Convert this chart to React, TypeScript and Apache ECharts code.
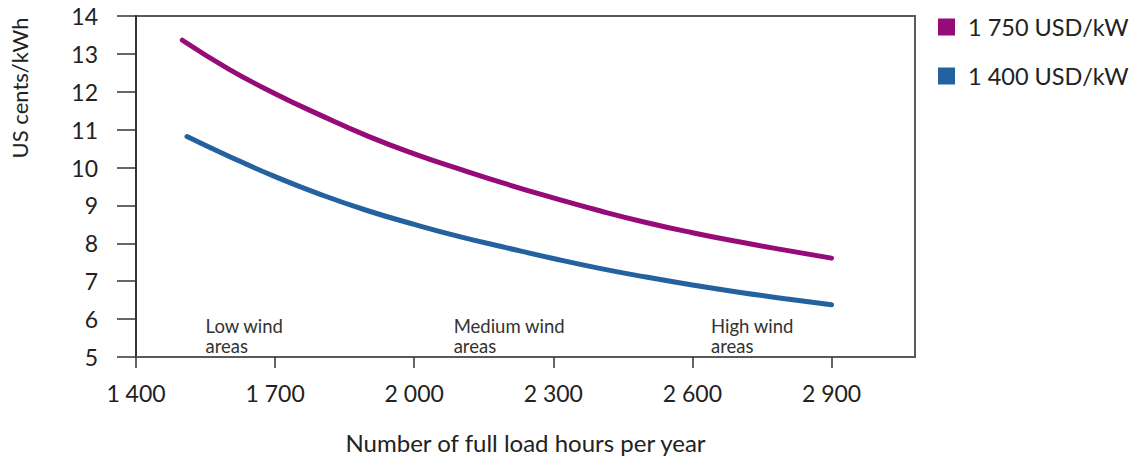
import React, { useEffect, useRef } from "react";
import * as echarts from "echarts";

const hours = [1500, 1600, 1700, 1800, 1900, 2000, 2100, 2200, 2300, 2400, 2500, 2600, 2700, 2800, 2900];
const cost1750 = [13.36, 12.6, 11.95, 11.37, 10.83, 10.36, 9.95, 9.56, 9.2, 8.86, 8.55, 8.28, 8.04, 7.82, 7.61];
const hours1400 = [1510, 1600, 1700, 1800, 1900, 2000, 2100, 2200, 2300, 2400, 2500, 2600, 2700, 2800, 2900];
const cost1400 = [10.82, 10.3, 9.76, 9.28, 8.86, 8.5, 8.17, 7.88, 7.6, 7.34, 7.11, 6.9, 6.71, 6.54, 6.38];
const xTicks = [1400, 1700, 2000, 2300, 2600, 2900];
const seriesNames = ["1 750 USD/kW", "1 400 USD/kW"];
const areaLabels = [
  { lines: ["Low wind", "areas"], hour: 1550 },
  { lines: ["Medium wind", "areas"], hour: 2085 },
  { lines: ["High wind", "areas"], hour: 2640 },
];

const FONT = "Lato";
const PURPLE = "#970b78";
const BLUE = "#24619f";

export default function App() {
  const ref = useRef<HTMLDivElement>(null);
  useEffect(() => {
    const chart = echarts.init(ref.current!, null, { renderer: "svg" });
    const fmt = (v: number) => String(v).replace(/\B(?=(\d{3})+(?!\d))/g, " ");
    const yTitle = {
      type: "text",
      x: 19,
      y: 88,
      rotation: Math.PI / 2,
      style: {
        text: "US cents/kWh",
        fontSize: 22,
        fontFamily: FONT,
        fill: "#222",
        align: "center",
        verticalAlign: "middle",
      },
    };
    chart.setOption({
      animation: false,
      textStyle: { fontFamily: FONT },
      grid: {
        left: 136,
        right: 219,
        top: 16,
        bottom: 101,
        outerBoundsMode: "none",
        containLabel: false,
        show: true,
        borderColor: "#5a5a5a",
        borderWidth: 2,
        backgroundColor: "transparent",
      },
      legend: {
        orient: "vertical",
        left: 938,
        top: 15,
        padding: 0,
        itemWidth: 17,
        itemHeight: 17,
        itemGap: 25,
        icon: "rect",
        textStyle: { fontSize: 23.5, color: "#222", fontFamily: FONT, padding: [0, 0, 0, 8] },
        data: seriesNames,
      },
      xAxis: {
        type: "value",
        min: 1400,
        max: 3080,
        name: "Number of full load hours per year",
        nameLocation: "middle",
        nameGap: 73,
        nameTextStyle: { fontSize: 24, color: "#222", fontFamily: FONT },
        axisLine: { show: true, lineStyle: { color: "#5a5a5a", width: 2 } },
        axisTick: { show: true, length: 11, lineStyle: { color: "#333", width: 1.5 }, customValues: xTicks },
        axisLabel: { fontSize: 23, color: "#222", margin: 24, formatter: fmt, customValues: xTicks },
        splitLine: { show: false },
      },
      yAxis: {
        type: "value",
        min: 5,
        max: 14,
        interval: 1,
        axisLine: { show: true, lineStyle: { color: "#333", width: 2 } },
        axisTick: { show: true, length: 19, lineStyle: { color: "#333", width: 1.5 } },
        axisLabel: { fontSize: 23, color: "#222", margin: 38 },
        splitLine: { show: false },
      },
      series: [
        {
          name: seriesNames[0],
          type: "line",
          data: hours.map((h, i) => [h, cost1750[i]]),
          showSymbol: false,
          smooth: true,
          lineStyle: { color: PURPLE, width: 5, cap: "round" },
          itemStyle: { color: PURPLE },
        },
        {
          name: seriesNames[1],
          type: "line",
          data: hours1400.map((h, i) => [h, cost1400[i]]),
          showSymbol: false,
          smooth: true,
          lineStyle: { color: BLUE, width: 5, cap: "round" },
          itemStyle: { color: BLUE },
        },
      ],
      graphic: [yTitle],
    });
    const g: any[] = [];
    areaLabels.forEach((a) => {
      const [px] = chart.convertToPixel({ gridIndex: 0 }, [a.hour, 5]);
      a.lines.forEach((t, i) => {
        g.push({
          type: "text",
          x: px,
          y: 326 + i * 20,
          style: {
            text: t,
            fontSize: 18.5,
            fontFamily: FONT,
            fill: "#333",
            align: "left",
            verticalAlign: "middle",
          },
        });
      });
    });
    chart.setOption({ graphic: [yTitle, ...g] });
    return () => chart.dispose();
  }, []);
  return (
    <div
      ref={ref}
      style={{ position: "fixed", left: 0, top: 0, width: 1134, height: 458, background: "#fff" }}
    />
  );
}
